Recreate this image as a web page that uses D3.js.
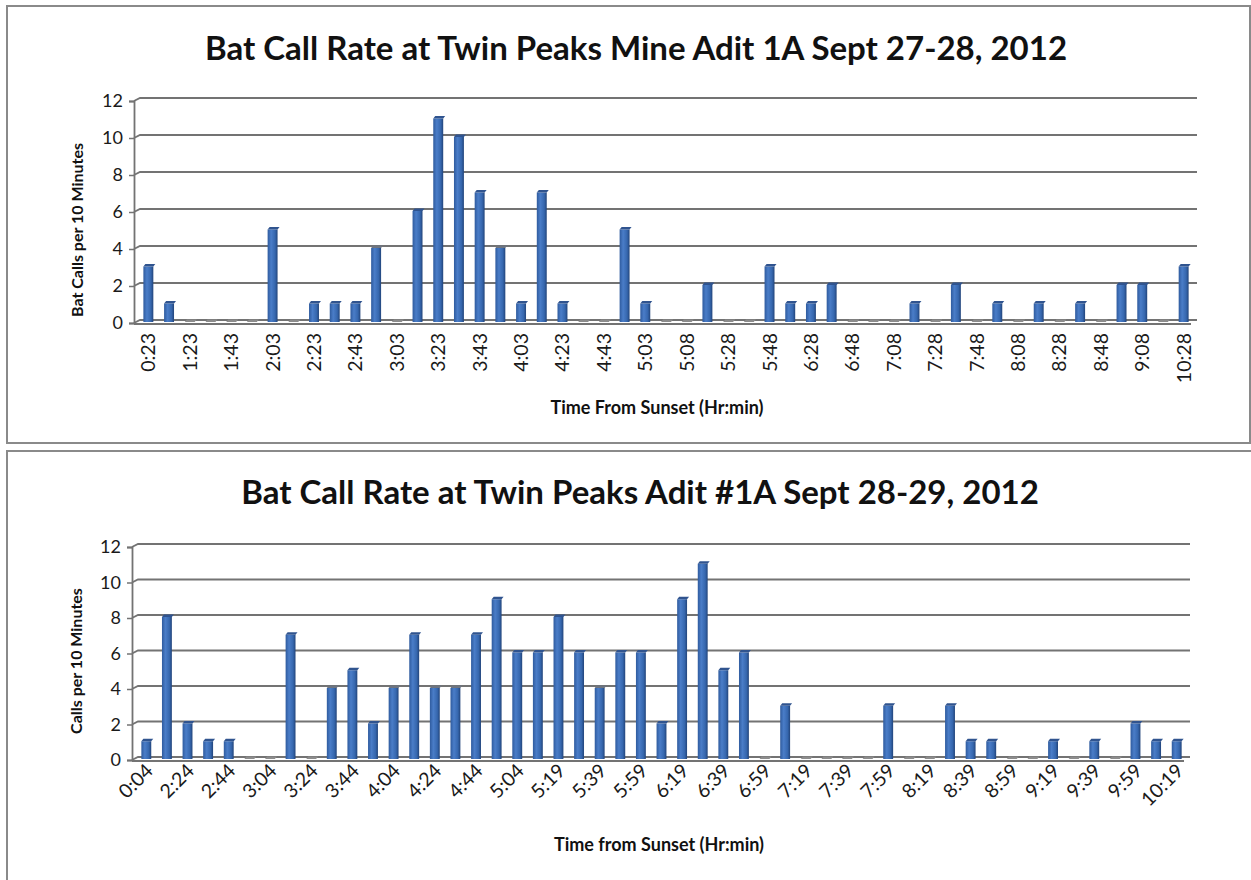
<!DOCTYPE html>
<html>
<head>
<meta charset="utf-8">
<script src="https://cdn.jsdelivr.net/npm/d3@7"></script>
<style>
  html, body { margin: 0; padding: 0; background: #ffffff; }
  svg { display: block; font-family: Lato, "Open Sans", "Liberation Sans", sans-serif; }
</style>
</head>
<body>
<svg id="chart" width="1251" height="880"></svg>
<script>
// Night 1: Sept 27-28, ten-minute intervals after sunset
const night1Times = ["0:23","1:13","1:23","1:33","1:43","1:53","2:03","2:13","2:23","2:33",
  "2:43","2:53","3:03","3:13","3:23","3:33","3:43","3:53","4:03","4:13",
  "4:23","4:33","4:43","4:53","5:03","5:05","5:08","5:18","5:28","5:38",
  "5:48","6:18","6:28","6:38","6:48","6:58","7:08","7:18","7:28","7:38",
  "7:48","7:58","8:08","8:18","8:28","8:38","8:48","8:58","9:08","10:18","10:28"];
const night1Calls = [3,1,0,0,0,0,5,0,1,1,
  1,4,0,6,11,10,7,4,1,7,
  1,0,0,5,1,0,0,2,0,0,
  3,1,1,2,0,0,0,1,0,2,
  0,1,0,1,0,1,0,2,2,0,3];

// Night 2: Sept 28-29
const night2Times = ["0:04","2:14","2:24","2:34","2:44","2:54","3:04","3:14","3:24","3:34",
  "3:44","3:54","4:04","4:14","4:24","4:34","4:44","4:54","5:04","5:09",
  "5:19","5:29","5:39","5:49","5:59","6:09","6:19","6:29","6:39","6:49",
  "6:59","7:09","7:19","7:29","7:39","7:49","7:59","8:09","8:19","8:29",
  "8:39","8:49","8:59","9:09","9:19","9:29","9:39","9:49","9:59","10:09","10:19"];
const night2Calls = [1,8,2,1,1,0,0,7,0,4,
  5,2,4,7,4,4,7,9,6,6,
  8,6,4,6,6,2,9,11,5,6,
  0,3,0,0,0,0,3,0,0,3,
  1,1,0,0,1,0,1,0,2,1,1];

const yTicks = [0, 2, 4, 6, 8, 10, 12];

const svg = d3.select("#chart");

// column shading (cylinder-like side lighting)
const defs = svg.append("defs");
const grad = defs.append("linearGradient").attr("id", "colFill")
  .attr("x1", "0%").attr("x2", "100%").attr("y1", "0%").attr("y2", "0%");
grad.append("stop").attr("offset", "0%").attr("stop-color", "#2f5b9e");
grad.append("stop").attr("offset", "35%").attr("stop-color", "#4a7dc8");
grad.append("stop").attr("offset", "75%").attr("stop-color", "#3667ae");
grad.append("stop").attr("offset", "100%").attr("stop-color", "#22447a");

function drawPanel(cfg) {
  const g = svg.append("g");

  // frame
  g.append("rect")
    .attr("x", cfg.frame[0]).attr("y", cfg.frame[1])
    .attr("width", cfg.frame[2]).attr("height", cfg.frame[3])
    .attr("fill", "#ffffff").attr("stroke", "#8a8a8a").attr("stroke-width", 2);

  // title
  g.append("text")
    .attr("x", cfg.titleX).attr("y", cfg.titleY)
    .attr("text-anchor", "middle")
    .attr("font-size", 33).attr("font-weight", 700).attr("fill", "#111")
    .text(cfg.title);

  const x = d3.scaleBand().domain(cfg.times).range(cfg.xRange).paddingInner(0.52).paddingOuter(0.26);
  const y = d3.scaleLinear().domain([0, 12]).range(cfg.yRange);
  const depthX = 6, depthY = -3;
  const axisX = cfg.xRange[0] - 4;

  // gridlines on the back wall, joined to the axis by short depth strokes
  const grid = g.append("g").attr("stroke", "#737373").attr("stroke-width", 1.8).attr("fill", "none");
  yTicks.forEach(t => {
    grid.append("path").attr("d",
      `M${axisX},${y(t)} L${axisX + depthX},${y(t) + depthY} L${cfg.xRange[1] + 3},${y(t) + depthY}`);
  });
  // floor front edge
  grid.append("line")
    .attr("x1", axisX).attr("x2", cfg.xRange[1] - 3)
    .attr("y1", y(0) + 1).attr("y2", y(0) + 1);

  // y axis
  const yAxis = d3.axisLeft(y).tickValues(yTicks).tickSize(5).tickPadding(6);
  const ya = g.append("g").attr("transform", `translate(${axisX},0)`).call(yAxis);
  ya.select(".domain").attr("stroke", "#737373").attr("stroke-width", 1.8);
  ya.selectAll(".tick line").attr("stroke", "#737373").attr("stroke-width", 1.5);
  ya.selectAll(".tick text").attr("font-size", 18).attr("fill", "#1a1a1a")
    .attr("font-family", "Lato, 'Open Sans', sans-serif");

  // columns
  const bw = x.bandwidth();
  const cols = g.append("g");
  cfg.times.forEach((t, i) => {
    const v = cfg.values[i];
    const x0 = x(t);
    const base = y(0) - 1;
    const top = y(v) - 1;
    if (v > 0) {
      cols.append("rect")
        .attr("x", x0).attr("y", top)
        .attr("width", bw).attr("height", base - top)
        .attr("fill", "url(#colFill)");
    }
    // column top face
    cols.append("path")
      .attr("d", `M${x0},${top} L${x0 + 2},${top - 2.5} L${x0 + bw + 2},${top - 2.5} L${x0 + bw},${top} Z`)
      .attr("fill", v > 0 ? (v === 4 ? "#6d7480" : "#30548f") : "#8c8c8c");
  });

  // x axis labels (every other interval is labelled)
  const xa = g.append("g");
  cfg.times.forEach((t, i) => {
    if (i % 2 !== 0) return;
    const cx = x(t) + bw / 2;
    const tx = xa.append("text")
      .attr("font-size", 19.5).attr("fill", "#1a1a1a")
      .attr("text-anchor", "end")
      .text(t);
    if (cfg.labelAngle === -90) {
      tx.attr("transform", `translate(${cx + 7},${cfg.labelY}) rotate(-90)`);
    } else {
      tx.attr("transform", `translate(${cx + 8},${cfg.labelY}) rotate(-45)`);
    }
  });

  // axis titles
  g.append("text")
    .attr("transform", `translate(${cfg.yTitleX},${cfg.yTitleY}) rotate(-90)`)
    .attr("text-anchor", "middle")
    .attr("font-size", 16).attr("font-weight", 700).attr("fill", "#111")
    .text(cfg.yTitle);
  g.append("text")
    .attr("x", cfg.xTitleX).attr("y", cfg.xTitleY)
    .attr("text-anchor", "middle")
    .attr("font-size", 18).attr("font-weight", 700).attr("fill", "#111")
    .text(cfg.xTitle);
}

drawPanel({
  frame: [7, 6, 1243, 437],
  title: "Bat Call Rate at Twin Peaks Mine Adit 1A Sept 27-28, 2012",
  titleX: 636, titleY: 60,
  times: night1Times, values: night1Calls,
  xRange: [138, 1194], yRange: [323, 101],
  labelAngle: -90, labelY: 333,
  yTitle: "Bat Calls per 10 Minutes", yTitleX: 83, yTitleY: 230,
  xTitle: "Time From Sunset (Hr:min)", xTitleX: 657, xTitleY: 414
});

drawPanel({
  frame: [7, 451, 1250, 440],
  title: "Bat Call Rate at Twin Peaks Adit #1A Sept 28-29, 2012",
  titleX: 640, titleY: 504,
  times: night2Times, values: night2Calls,
  xRange: [136, 1187], yRange: [760, 547],
  labelAngle: -45, labelY: 772,
  yTitle: "Calls per 10 Minutes", yTitleX: 82, yTitleY: 661,
  xTitle: "Time from Sunset (Hr:min)", xTitleX: 659, xTitleY: 851
});
</script>
</body>
</html>
